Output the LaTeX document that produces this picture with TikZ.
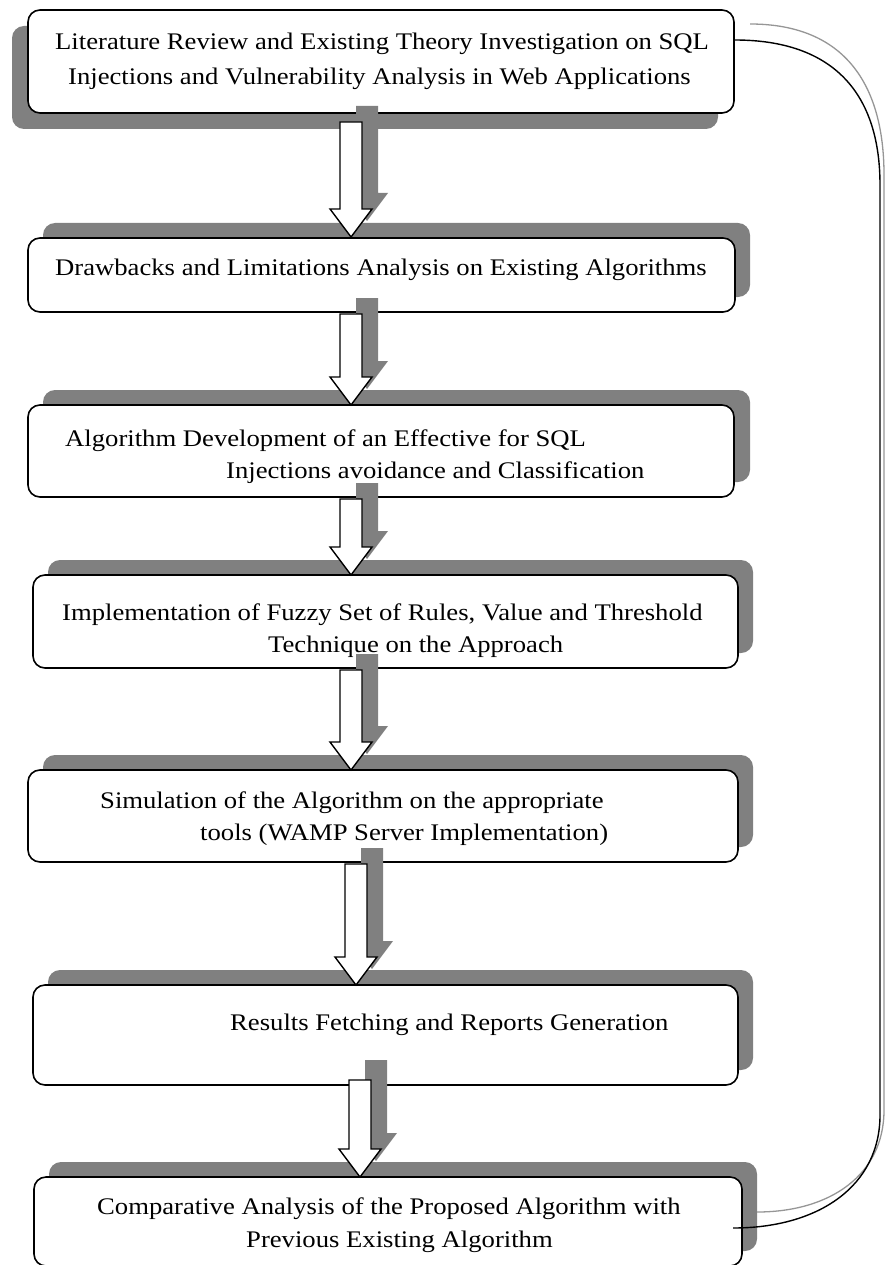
\documentclass[tikz,border=0pt]{standalone}
\usepackage{fontspec}
\setmainfont[FakeStretch=1.12]{Liberation Serif}
\tikzset{
  x=1pt,y=-1pt,
  boxshadow/.style={fill=shadowgray,draw=none,rounded corners=12pt},
  flowbox/.style={fill=white,draw=black,line width=1.6pt,rounded corners=12pt,inner sep=0pt},
  arrowshadow/.style={fill=shadowgray,draw=none},
  blockarrow/.style={fill=white,draw=black,line width=1.4pt,line join=miter},
  txt/.style={anchor=base west,inner sep=0pt,font=\fontsize{23.8}{28}\selectfont},
}
\definecolor{shadowgray}{RGB}{128,128,128}
\definecolor{linegray}{RGB}{150,150,150}
% #1 centre x, #2 top y, #3 tip y
\newcommand{\arrowpoly}[3]{(#1-11,#2) -- (#1+11,#2) -- (#1+11,#3-28) -- (#1+21,#3-28) -- (#1,#3) -- (#1-21,#3-28) -- (#1-11,#3-28) -- cycle}
\begin{document}
\begin{tikzpicture}
\useasboundingbox (0,0) rectangle (886,1265);
\clip (0,0) rectangle (886,1265);
% box shadows
\fill[boxshadow] (12,26) rectangle (718,129);
\fill[boxshadow] (43,223) rectangle (750,297);
\fill[boxshadow] (43,390) rectangle (750,482);
\fill[boxshadow] (48,560) rectangle (753,653);
\fill[boxshadow] (43,755) rectangle (753,847);
\fill[boxshadow] (48,970) rectangle (753,1070);
\fill[boxshadow] (49,1162) rectangle (757,1251);
% connector shadow
\coordinate (g1) at (750,24);
\coordinate (g2) at (757,1212);
\draw[linegray,line width=1.3pt] (g1) .. controls (845,24) and (884,85) .. (884,175) -- (884,1110) .. controls (884,1175) and (830,1212) .. (g2);
% boxes
\node[flowbox,minimum width=706pt,minimum height=103pt] (b1) at (381,61.5) {};
\node[flowbox,minimum width=707pt,minimum height=74pt] (b2) at (381.5,275) {};
\node[flowbox,minimum width=706pt,minimum height=92pt] (b3) at (381,451) {};
\node[flowbox,minimum width=705pt,minimum height=93pt] (b4) at (385.5,621.5) {};
\node[flowbox,minimum width=710pt,minimum height=92pt] (b5) at (383,816) {};
\node[flowbox,minimum width=705pt,minimum height=100pt] (b6) at (385.5,1035) {};
\node[flowbox,minimum width=708pt,minimum height=89pt] (b7) at (388,1221.5) {};
% connector
\coordinate (c1) at (b1.east |- 0,40);
\coordinate (c2) at (733,1228);
\draw[black,line width=1.4pt] (c1) .. controls (835,40) and (880,95) .. (880,185) -- (880,1115) .. controls (880,1185) and (820,1228) .. (c2);
% arrow shadows
\fill[arrowshadow] \arrowpoly{367}{106}{221};
\fill[arrowshadow] \arrowpoly{367}{298}{389};
\fill[arrowshadow] \arrowpoly{367}{483}{559};
\fill[arrowshadow] \arrowpoly{367}{654}{754};
\fill[arrowshadow] \arrowpoly{372}{848}{969};
\fill[arrowshadow] \arrowpoly{376}{1060}{1161};
% arrows
\draw[blockarrow] \arrowpoly{351}{122}{237};
\draw[blockarrow] \arrowpoly{351}{314}{405};
\draw[blockarrow] \arrowpoly{351}{499}{575};
\draw[blockarrow] \arrowpoly{351}{670}{770};
\draw[blockarrow] \arrowpoly{356}{864}{985};
\draw[blockarrow] \arrowpoly{360}{1080}{1177};
% texts
\node[txt] (t1a) at (55,50) {Literature Review and Existing Theory Investigation on SQL};
\node[txt] (t1b) at (68,85) {Injections and Vulnerability Analysis in Web Applications};
\node[txt] (t2) at (55,276) {Drawbacks and Limitations Analysis on Existing Algorithms};
\node[txt] (t3a) at (65,446) {Algorithm Development of an Effective for SQL};
\node[txt] (t3b) at (226,478) {Injections avoidance and Classification};
\node[txt] (t4a) at (62,620) {Implementation of Fuzzy Set of Rules, Value and Threshold};
\node[txt] (t4b) at (268,652) {Technique on the Approach};
\node[txt] (t5a) at (100,808) {Simulation of the Algorithm on the appropriate};
\node[txt] (t5b) at (200,840) {tools (WAMP Server Implementation)};
\node[txt] (t6) at (230,1030) {Results Fetching and Reports Generation};
\node[txt] (t7a) at (97,1214) {Comparative Analysis of the Proposed Algorithm with};
\node[txt] (t7b) at (246,1247) {Previous Existing Algorithm};
\end{tikzpicture}
\end{document}
